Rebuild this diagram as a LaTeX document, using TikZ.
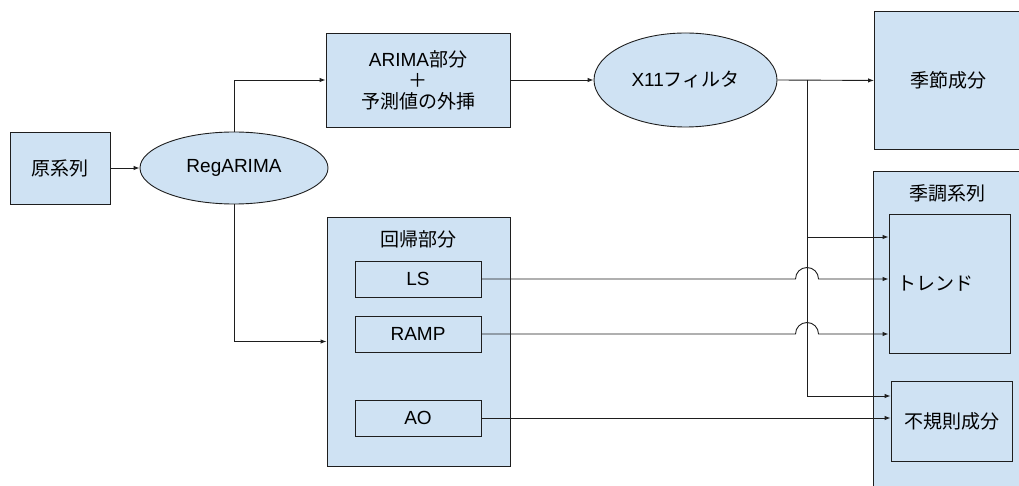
\documentclass[tikz,border=0pt]{standalone}
\usepackage{fontspec}
\setmainfont{Liberation Sans}
\newfontfamily\jp{Noto Sans CJK JP}
\usetikzlibrary{calc}
\usetikzlibrary{positioning}
\usetikzlibrary{shapes.geometric}
\usetikzlibrary{arrows.meta}
\definecolor{custom-blue}{RGB}{207, 226, 243}
\definecolor{custom-line}{RGB}{30, 30, 30}

\tikzset{
  box/.style={draw=custom-line, fill=custom-blue, line width=0.9pt, inner sep=0pt},
  plainbox/.style={draw=custom-line, line width=0.9pt, inner sep=0pt},
  blob/.style={ellipse, draw=custom-line, fill=custom-blue, line width=0.9pt, inner sep=0pt},
  link/.style={draw=custom-line, line width=0.9pt},
  arr/.style={link, -{Latex[length=6pt, width=4.5pt]}},
  every node/.style={font=\fontsize{19}{21}\selectfont}
}

\begin{document}
\begin{tikzpicture}[x=1pt, y=-1pt]
\useasboundingbox (0,0) rectangle (1019,486);
\clip (0,0) rectangle (1019,486);

% left part
\node[box, minimum width=100pt, minimum height=72pt] (orig) at (60,168) {{\jp 原系列}};
\node[blob, minimum width=188pt, minimum height=72pt] (regarima) at (234,168) {RegARIMA};
\node[box, minimum width=184pt, minimum height=94pt, align=center] (arima) at (418,80)
  {ARIMA{\jp 部分}\\{\jp ＋}\\{\jp 予測値の外挿}};
\node[box, minimum width=183pt, minimum height=249pt] (reg) at (418.5,341.5) {};
\node (reg-title) at (418,239) {{\jp 回帰部分}};
\node[plainbox, minimum width=126pt, minimum height=36pt] (ls) at (418,279) {LS};
\node[plainbox, minimum width=126pt, minimum height=36pt] (ramp) at (418,334) {RAMP};
\node[plainbox, minimum width=126pt, minimum height=36pt] (ao) at (418,418) {AO};

% right part
\node[blob, minimum width=183pt, minimum height=94pt] (x11) at (685.5,80) {X11{\jp フィルタ}};
\node[box, anchor=north west, minimum width=160pt, minimum height=138pt] (season) at (874,11) {};
\node (season-text) at (948,80) {{\jp 季節成分}};
\node[box, anchor=north west, minimum width=160pt, minimum height=330pt] (adjusted) at (873,171) {};
\node (adjusted-title) at (947,193) {{\jp 季調系列}};
\node[plainbox, minimum width=121pt, minimum height=139pt, text width=105pt, align=left] (trend) at (949.5,283.5) {{\jp トレンド}};
\node[plainbox, minimum width=121pt, minimum height=80pt] (irreg) at (951.5,421) {{\jp 不規則成分}};

\coordinate (split) at (807,80);
\coordinate (split-trend) at (807,237);
\coordinate (split-irreg) at (807,396);

% connectors
\draw[arr] (orig) -- (regarima);
\draw[arr] (regarima.north) |- (arima.west);
\draw[arr] (regarima.south) |- (reg.west);
\draw[arr] (arima.east) -- (x11.west);
\draw[arr] (x11.east) -- (season.west);
\draw[link] (split) -- (split-irreg);
\draw[arr] (split-trend) -- (split-trend -| trend.west);
\draw[arr] (split-irreg) -- (split-irreg -| irreg.west);
\draw[arr] (ls.east) -- ($(ls.east -| split)+(-11.5,0)$) arc[start angle=180, end angle=360, radius=11.5] -- (ls.east -| trend.west);
\draw[arr] (ramp.east) -- ($(ramp.east -| split)+(-11.5,0)$) arc[start angle=180, end angle=360, radius=11.5] -- (ramp.east -| trend.west);
\draw[arr] (ao.east) -- (ao.east -| irreg.west);
\end{tikzpicture}
\end{document}
